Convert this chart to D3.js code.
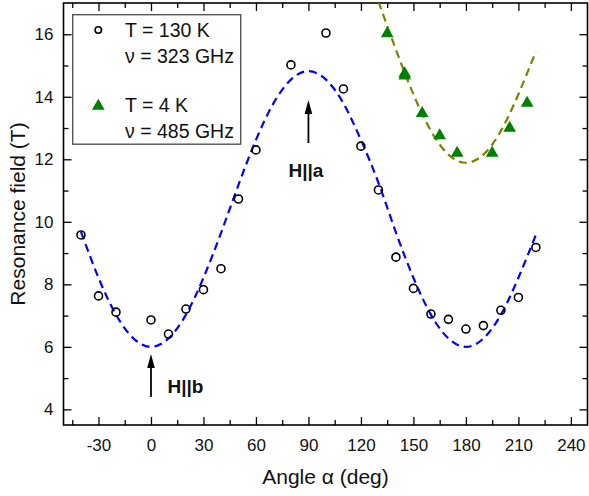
<!DOCTYPE html>
<html>
<head>
<meta charset="utf-8">
<script src="https://cdn.jsdelivr.net/npm/d3@7"></script>
<style>
  html, body { margin: 0; padding: 0; background: #fff; }
  svg { display: block; font-family: Arial, "Liberation Sans", sans-serif; }
</style>
</head>
<body>
<svg id="chart" width="589" height="496"></svg>
<script>
// ---- data ----
const hotAngles = [-40, -30, -20, 0, 10, 20, 30, 40, 50, 60, 80, 100, 110, 120, 130, 140, 150, 160, 170, 180, 190, 200, 210, 220];
const hotField  = [9.58, 7.63, 7.11, 6.86, 6.41, 7.21, 7.83, 8.50, 10.73, 12.30, 15.02, 16.04, 14.25, 12.42, 11.02, 8.87, 7.87, 7.05, 6.88, 6.57, 6.68, 7.17, 7.58, 9.18];

const coldAngles = [135, 145, 145, 155, 165, 175, 195, 205, 215];
const coldField  = [16.02, 14.74, 14.67, 13.47, 12.76, 12.20, 12.20, 13.00, 13.80];

const fitHotAngles = [-40, -30, -20, -10, 0, 10, 20, 30, 40, 50, 60, 70, 80, 90, 100, 110, 120, 130, 140, 150, 160, 170, 180, 190, 200, 210, 220];
const fitHotField  = [9.68, 8.21, 7.03, 6.27, 6.00, 6.27, 7.03, 8.21, 9.64, 11.18, 12.62, 13.79, 14.55, 14.82, 14.55, 13.79, 12.62, 11.25, 9.66, 8.21, 7.03, 6.27, 6.00, 6.27, 7.03, 8.21, 9.58];

const fitColdAngles = [130, 140, 150, 160, 170, 180, 190, 200, 210, 220];
const fitColdField  = [17.05, 15.51, 14.08, 12.91, 12.15, 11.89, 12.15, 12.91, 14.08, 15.45];

const xTickValues = [-30, 0, 30, 60, 90, 120, 150, 180, 210, 240];
const xMinorValues = [-45, -15, 15, 45, 75, 105, 135, 165, 195, 225];
const yTickValues = [4, 6, 8, 10, 12, 14, 16];
const yMinorValues = [5, 7, 9, 11, 13, 15];

const legendLabels = [["T = 130 K", "\u03bd = 323 GHz"], ["T = 4 K", "\u03bd = 485 GHz"]];
const xTitle = "Angle \u03b1 (deg)";
const yTitle = "Resonance field (T)";

// ---- layout ----
const L = 63.5, R = 587.5, T = 3, B = 425;
const x = d3.scaleLinear().domain([-50, 249.5]).range([L, R]);
const y = d3.scaleLinear().domain([3.5, 17]).range([B, T]);

const svg = d3.select("#chart");
const blue = "#0000ff", olive = "#808000", green = "#008000";
const fmt = d => String(d);

svg.append("defs").append("clipPath").attr("id", "plotclip")
  .append("rect").attr("x", L).attr("y", T).attr("width", R - L).attr("height", B - T);

// ---- axes (ticks inward on all four sides) ----
const tickStyle = g => { g.select(".domain").remove(); g.selectAll("line").attr("stroke", "#000").attr("stroke-width", 1.3); };

svg.append("g").attr("transform", `translate(0,${B})`)
  .call(d3.axisBottom(x).tickValues(xTickValues).tickFormat(fmt).tickSizeInner(-8).tickSizeOuter(0).tickPadding(14))
  .call(tickStyle)
  .call(g => g.selectAll("text").attr("font-size", 17).attr("fill", "#111").attr("font-family", "Arial, 'Liberation Sans', sans-serif"));
svg.append("g").attr("transform", `translate(0,${B})`)
  .call(d3.axisBottom(x).tickValues(xMinorValues).tickSizeInner(-5).tickSizeOuter(0).tickFormat(""))
  .call(tickStyle);
svg.append("g").attr("transform", `translate(0,${T})`)
  .call(d3.axisTop(x).tickValues(xTickValues).tickSizeInner(-8).tickSizeOuter(0).tickFormat(""))
  .call(tickStyle);
svg.append("g").attr("transform", `translate(0,${T})`)
  .call(d3.axisTop(x).tickValues(xMinorValues).tickSizeInner(-5).tickSizeOuter(0).tickFormat(""))
  .call(tickStyle);

svg.append("g").attr("transform", `translate(${L},0)`)
  .call(d3.axisLeft(y).tickValues(yTickValues).tickFormat(fmt).tickSizeInner(-8).tickSizeOuter(0).tickPadding(10))
  .call(tickStyle)
  .call(g => g.selectAll("text").attr("font-size", 17).attr("fill", "#111").attr("font-family", "Arial, 'Liberation Sans', sans-serif"));
svg.append("g").attr("transform", `translate(${L},0)`)
  .call(d3.axisLeft(y).tickValues(yMinorValues).tickSizeInner(-5).tickSizeOuter(0).tickFormat(""))
  .call(tickStyle);
svg.append("g").attr("transform", `translate(${R},0)`)
  .call(d3.axisRight(y).tickValues(yTickValues).tickSizeInner(-8).tickSizeOuter(0).tickFormat(""))
  .call(tickStyle);
svg.append("g").attr("transform", `translate(${R},0)`)
  .call(d3.axisRight(y).tickValues(yMinorValues).tickSizeInner(-5).tickSizeOuter(0).tickFormat(""))
  .call(tickStyle);

// frame
svg.append("rect").attr("x", L).attr("y", T).attr("width", R - L).attr("height", B - T)
  .attr("fill", "none").attr("stroke", "#000").attr("stroke-width", 1.6);

// titles
svg.append("text").attr("x", (L + R) / 2).attr("y", 484).attr("text-anchor", "middle")
  .attr("font-size", 21).attr("fill", "#111").text(xTitle);
svg.append("text").attr("transform", `translate(25,${(T + B) / 2}) rotate(-90)`).attr("text-anchor", "middle")
  .attr("font-size", 21).attr("fill", "#111").text(yTitle);

// ---- fit curves ----
const plot = svg.append("g").attr("clip-path", "url(#plotclip)");
const line = d3.line().x(d => x(d[0])).y(d => y(d[1])).curve(d3.curveNatural);

plot.append("path").datum(d3.zip(fitHotAngles, fitHotField))
  .attr("d", line).attr("fill", "none").attr("stroke", blue).attr("stroke-width", 2.2)
  .attr("stroke-dasharray", "8,5");
plot.append("path").datum(d3.zip(fitColdAngles, fitColdField))
  .attr("d", line).attr("fill", "none").attr("stroke", olive).attr("stroke-width", 2.2)
  .attr("stroke-dasharray", "8,5");

// ---- data points ----
plot.selectAll("circle.hot").data(d3.zip(hotAngles, hotField)).join("circle")
  .attr("class", "hot").attr("cx", d => x(d[0])).attr("cy", d => y(d[1])).attr("r", 4)
  .attr("fill", "none").attr("stroke", "#000").attr("stroke-width", 1.6);

const tri = d3.symbol().type(d3.symbolTriangle).size(70);
plot.selectAll("path.cold").data(d3.zip(coldAngles, coldField)).join("path")
  .attr("class", "cold").attr("transform", d => `translate(${x(d[0])},${y(d[1])})`)
  .attr("d", tri).attr("fill", green);

// ---- legend ----
const lg = svg.append("g");
lg.append("rect").attr("x", 72.7).attr("y", 14.7).attr("width", 168).attr("height", 129.5)
  .attr("fill", "#fff").attr("stroke", "#555").attr("stroke-width", 1.4);
lg.append("circle").attr("cx", 98.3).attr("cy", 30).attr("r", 3.2)
  .attr("fill", "none").attr("stroke", "#000").attr("stroke-width", 1.6);
lg.append("path").attr("transform", "translate(98.3,106)").attr("d", tri).attr("fill", green);
const lgY = [[36.7, 62.7], [111.7, 138.3]];
legendLabels.forEach((pair, i) => {
  pair.forEach((t, j) => {
    lg.append("text").attr("x", 125).attr("y", lgY[i][j]).attr("font-size", 19.5).attr("fill", "#111").text(t);
  });
});

// ---- annotations ----
function arrow(ax, yFrom, yTo) {
  svg.append("line").attr("x1", x(ax)).attr("x2", x(ax)).attr("y1", yFrom).attr("y2", yTo + 10)
    .attr("stroke", "#000").attr("stroke-width", 1.8);
  svg.append("path").attr("d", `M${x(ax)},${yTo} L${x(ax) + 3.8},${yTo + 14} L${x(ax) - 3.8},${yTo + 14} Z`).attr("fill", "#000");
}
arrow(90, 143, 100);
arrow(0, 397, 354);
svg.append("text").attr("x", 288.5).attr("y", 176.7).attr("font-size", 19).attr("font-weight", "bold").attr("fill", "#111").text("H||a");
svg.append("text").attr("x", 167.5).attr("y", 393.3).attr("font-size", 19).attr("font-weight", "bold").attr("fill", "#111").text("H||b");
</script>
</body>
</html>
